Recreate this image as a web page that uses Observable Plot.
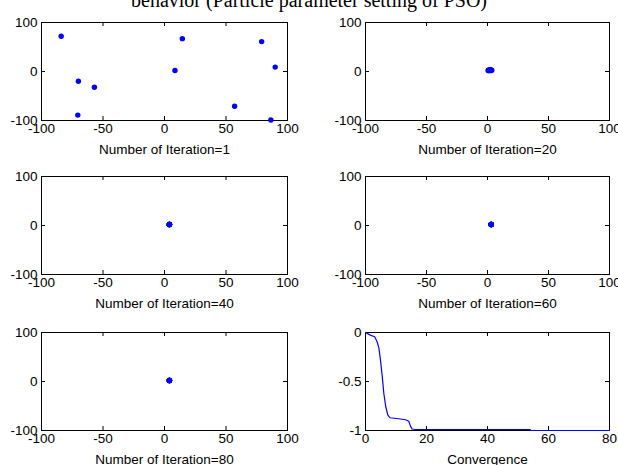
<!DOCTYPE html>
<html>
<head>
<meta charset="utf-8">
<script src="https://cdn.jsdelivr.net/npm/d3@7"></script>
<script src="https://cdn.jsdelivr.net/npm/@observablehq/plot@0.6"></script>
<style>
  html, body { margin: 0; padding: 0; background: #fff; overflow: hidden; }
  #wrap { position: relative; width: 618px; height: 465px; overflow: hidden; }
  .panel { position: absolute; }
  #title { position: absolute; left: 0; width: 618px; top: -10px; text-align: center;
    font-family: "Liberation Serif", "Times New Roman", serif; font-size: 20px; line-height: 20px; white-space: nowrap; color: #000; }
</style>
</head>
<body>
<div id="wrap">
  <div id="title">behavior (Particle parameter setting of PSO)</div>
</div>
<script>
const titleText = "behavior (Particle parameter setting of PSO)";

// Particle positions at each sampled iteration
const iter1X = [-84, -70, -57, -70.5, 8.5, 14.5, 57, 79, 90, 86.5];
const iter1Y = [72, -20, -32, -89, 2, 67, -71, 61, 9, -99];
const iter20X = [0.5, 1, 1.5, 2, 2.5, 3, 3.5, 1, 2.5, 3];
const iter20Y = [2, 3, 2, 3, 2, 3, 2.5, 2, 3, 2];
const iter40X = [4, 4, 4, 4, 4, 4, 4, 4, 4, 4];
const iter40Y = [2, 2, 2, 2, 2, 2, 2, 2, 2, 2];
const iter60X = [3, 3, 3, 3, 3, 3, 3, 3, 3, 3];
const iter60Y = [2, 2, 2, 2, 2, 2, 2, 2, 2, 2];
const iter80X = [4, 4, 4, 4, 4, 4, 4, 4, 4, 4];
const iter80Y = [2, 2, 2, 2, 2, 2, 2, 2, 2, 2];

// Convergence curve
const convX = [0, 1.6, 3.0, 3.8, 4.4, 4.9, 5.5, 6.0, 6.6, 7.3, 8.0, 10.9, 13.1, 14.2, 14.8, 15.3, 16.4, 54, 54.1, 80];
const convY = [0, -0.027, -0.044, -0.094, -0.16, -0.28, -0.45, -0.62, -0.75, -0.84, -0.87, -0.88, -0.89, -0.905, -0.96, -0.985, -0.99, -0.99, -1, -1];

const posTicks = [-100, -50, 0, 50, 100];
const posYTicks = [-100, 0, 100];
const convXTicks = [0, 20, 40, 60, 80];
const convYTicks = [-1, -0.5, 0];

const labels = ["Number of Iteration=1", "Number of Iteration=20", "Number of Iteration=40",
                "Number of Iteration=60", "Number of Iteration=80", "Convergence"];

const BLUE = "#0000ff";
const FONT = "'Liberation Sans', Arial, sans-serif";
const ML = 41, MR = 24, MT = 10, MB = 40;
const IH = 98;

function panel({left, top, innerW, xDomain, yDomain, xTicks, yTicks, xLabel, marks}) {
  const W = ML + innerW + MR;
  const H = MT + IH + MB;
  const tk = 4;
  const chart = Plot.plot({
    width: W, height: H,
    marginLeft: ML, marginRight: MR, marginTop: MT, marginBottom: MB,
    style: {fontFamily: FONT, fontSize: "13.5px", color: "black", background: "transparent", overflow: "visible"},
    x: {domain: xDomain},
    y: {domain: yDomain},
    marks: [
      Plot.frame({stroke: "black", strokeWidth: 1}),
      // inward ticks, bottom and top
      Plot.tickX(xTicks, {x: d => d, stroke: "black", insetTop: IH - tk}),
      Plot.tickX(xTicks, {x: d => d, stroke: "black", insetBottom: IH - tk}),
      // inward ticks, left and right
      Plot.tickY(yTicks, {y: d => d, stroke: "black", insetRight: innerW - tk}),
      Plot.tickY(yTicks, {y: d => d, stroke: "black", insetLeft: innerW - tk}),
      Plot.axisX(xTicks, {tickSize: 0, tickPadding: 3, tickFormat: d => String(d),
        label: xLabel, labelAnchor: "center", labelOffset: 33, labelArrow: "none", fill: "black"}),
      Plot.axisY(yTicks, {tickSize: 0, tickPadding: 4, tickFormat: d => String(d), label: null, fill: "black"}),
      ...marks
    ]
  });
  chart.classList.add("panel");
  chart.style.left = (left - ML) + "px";
  chart.style.top = (top - MT) + "px";
  document.getElementById("wrap").appendChild(chart);
}

function scatter(xs, ys) {
  return [Plot.dot(xs.map((x, i) => ({x, y: ys[i]})), {x: "x", y: "y", r: 2.7, fill: BLUE, stroke: null})];
}

const lefts = [41, 365];
const tops = [22, 176, 332];
const widths = [246, 244];

panel({left: lefts[0], top: tops[0], innerW: widths[0], xDomain: [-100, 100], yDomain: [-100, 100],
  xTicks: posTicks, yTicks: posYTicks, xLabel: labels[0], marks: scatter(iter1X, iter1Y)});
panel({left: lefts[1], top: tops[0], innerW: widths[1], xDomain: [-100, 100], yDomain: [-100, 100],
  xTicks: posTicks, yTicks: posYTicks, xLabel: labels[1], marks: scatter(iter20X, iter20Y)});
panel({left: lefts[0], top: tops[1], innerW: widths[0], xDomain: [-100, 100], yDomain: [-100, 100],
  xTicks: posTicks, yTicks: posYTicks, xLabel: labels[2], marks: scatter(iter40X, iter40Y)});
panel({left: lefts[1], top: tops[1], innerW: widths[1], xDomain: [-100, 100], yDomain: [-100, 100],
  xTicks: posTicks, yTicks: posYTicks, xLabel: labels[3], marks: scatter(iter60X, iter60Y)});
panel({left: lefts[0], top: tops[2], innerW: widths[0], xDomain: [-100, 100], yDomain: [-100, 100],
  xTicks: posTicks, yTicks: posYTicks, xLabel: labels[4], marks: scatter(iter80X, iter80Y)});
panel({left: lefts[1], top: tops[2], innerW: widths[1], xDomain: [0, 80], yDomain: [-1, 0],
  xTicks: convXTicks, yTicks: convYTicks, xLabel: labels[5],
  marks: [Plot.line(convX.map((x, i) => ({x, y: convY[i]})), {x: "x", y: "y", stroke: BLUE, strokeWidth: 1.2})]});

document.getElementById("title").textContent = titleText;
</script>
</body>
</html>
